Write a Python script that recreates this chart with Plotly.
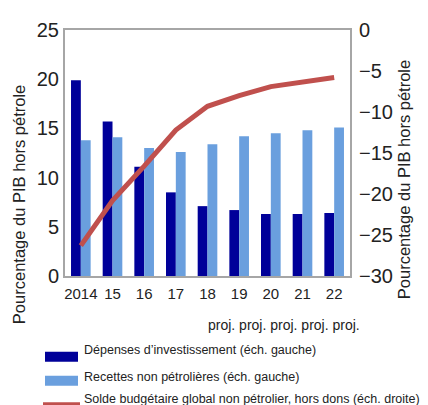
import plotly.graph_objects as go

categories = ["2014", "15", "16", "17", "18", "19", "20", "21", "22"]
depenses_invest = [19.9, 15.7, 11.1, 8.5, 7.1, 6.7, 6.3, 6.3, 6.4]
recettes_non_petro = [13.8, 14.1, 13.0, 12.6, 13.4, 14.2, 14.5, 14.8, 15.1]
solde_budgetaire = [-26.3, -20.8, -16.6, -12.2, -9.3, -8.0, -6.9, -6.3, -5.8]

left_ticks = [0, 5, 10, 15, 20, 25]
right_ticks = [0, -5, -10, -15, -20, -25, -30]
axis_title = "Pourcentage du PIB hors pétrole"

DARK = "#000099"
LIGHT = "#6A9FDE"
RED = "#C0504D"
GRAY = "#A6A6A6"
TXT = "#222222"
FONT = "Liberation Sans, Arial, sans-serif"

# page body has an 8px margin: figure occupies page x 8..428, y 8..405
PX0, PX1, PY0, PY1 = 65.0, 350.0, 29.5, 276.0   # plot area in page pixels


def px(x):
    return (x - PX0) / (PX1 - PX0)


def py(y):
    return (PY1 - y) / (PY1 - PY0)


fig = go.Figure()
fig.add_trace(go.Bar(x=categories, y=depenses_invest, marker_color=DARK,
                     marker_line_width=0, name="Dépenses d’investissement (éch. gauche)"))
fig.add_trace(go.Bar(x=categories, y=recettes_non_petro, marker_color=LIGHT,
                     marker_line_width=0, name="Recettes non pétrolières (éch. gauche)"))
fig.add_trace(go.Scatter(x=categories, y=solde_budgetaire, mode="lines", yaxis="y2",
                         line=dict(color=RED, width=5), name="Solde budgétaire"))

fig.update_layout(
    width=420, height=397,
    margin=dict(l=57, r=78, t=22, b=129, autoexpand=False),
    paper_bgcolor="white", plot_bgcolor="white",
    barmode="group", bargap=0.38, bargroupgap=0,
    showlegend=False,
    font=dict(family=FONT, color=TXT),
    xaxis=dict(type="category", showline=True, linecolor=GRAY, linewidth=2,
               mirror=True, ticks="", tickfont=dict(size=15, color=TXT),
               ticklabelstandoff=3, showgrid=False, automargin=False),
    yaxis=dict(range=[0, 25], tickvals=left_ticks, showgrid=False, zeroline=False,
               showline=True, linecolor=GRAY, linewidth=2, ticks="",
               tickfont=dict(size=20, color=TXT), automargin=False),
    yaxis2=dict(range=[-30, 0], tickvals=right_ticks, overlaying="y", side="right",
                showgrid=False, zeroline=False, showline=True, linecolor=GRAY,
                linewidth=2, ticks="", tickfont=dict(size=20, color=TXT),
                ticklabelstandoff=3, automargin=False),
)

fig.add_annotation(text=axis_title, xref="paper", yref="paper",
                   x=px(19), y=py(205), textangle=-90, showarrow=False,
                   xanchor="center", yanchor="middle",
                   font=dict(size=16.5, color=TXT))
fig.add_annotation(text=axis_title, xref="paper", yref="paper",
                   x=px(404), y=py(180), textangle=-90, showarrow=False,
                   xanchor="center", yanchor="middle",
                   font=dict(size=16.5, color=TXT))

fig.add_annotation(text="proj. proj. proj. proj. proj.", xref="paper", yref="paper",
                   x=px(284), y=py(325), showarrow=False,
                   font=dict(size=14, color=TXT), xanchor="center", yanchor="middle")

legend_items = [
    ("Dépenses d’investissement (éch. gauche)", DARK, "box", 350, 357),
    ("Recettes non pétrolières (éch. gauche)", LIGHT, "box", 377, 381),
    ("Solde budgétaire global non pétrolier, hors dons (éch. droite)", RED, "line", 399, 405),
]
for text, color, kind, ty, sy in legend_items:
    if kind == "box":
        fig.add_shape(type="rect", xref="paper", yref="paper",
                      x0=px(45), x1=px(78), y0=py(sy - 5), y1=py(sy + 5),
                      fillcolor=color, line_width=0)
    else:
        fig.add_shape(type="line", xref="paper", yref="paper",
                      x0=px(43), x1=px(80), y0=py(sy), y1=py(sy),
                      line=dict(color=color, width=5))
    fig.add_annotation(text=text, xref="paper", yref="paper",
                       x=px(82), y=py(ty), showarrow=False,
                       xanchor="left", yanchor="middle",
                       font=dict(size=12.5, color=TXT))

fig.write_html("out.html")
